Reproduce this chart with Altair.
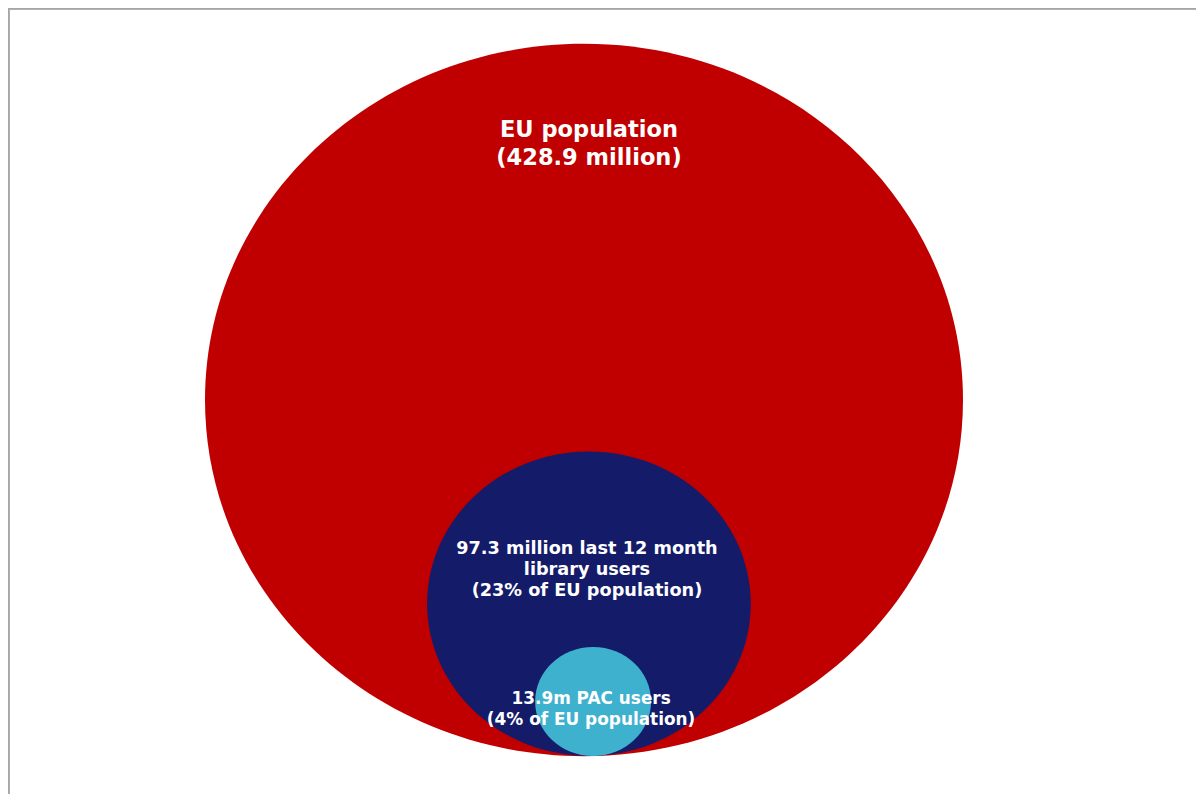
import altair as alt
import pandas as pd

# ---- data ----
names = ["EU population", "Last 12 month library users", "PAC users"]
values_million = [428.9, 97.3, 13.9]
share_of_eu = [100, 23, 4]
# circle geometry in units of the EU circle's horizontal radius
center_x = [0.0, 0.013, 0.024]
center_y = [0.0, -0.5375, -0.7955]
radius_x = [1.0, 0.427, 0.153]
colors = ["#C00000", "#141B69", "#3DB1CD"]

label_eu = ["EU population", "(428.9 million)"]
label_lib = ["97.3 million last 12 month", "library users", "(23% of EU population)"]
label_pac = ["13.9m PAC users", "(4% of EU population)"]

# ---- layout ----
W, H = 1188, 786
xmin, xmax = -1.5198, 1.6148
px_per_unit = W / (xmax - xmin)
ymax = 392 / px_per_unit
ymin = ymax - H / px_per_unit

aspect = 0.94
k = 0.5523
kr = round(k * aspect, 4)
a = aspect
ellipse = (f"M -1 0 C -1 {-kr} {-k} {-a} 0 {-a} C {k} {-a} 1 {-kr} 1 0 "
           f"C 1 {kr} {k} {a} 0 {a} C {-k} {a} -1 {kr} -1 0 Z")

df = pd.DataFrame({
    "name": names,
    "value": values_million,
    "share": share_of_eu,
    "cx": center_x,
    "cy": center_y,
    "rx": radius_x,
    "idx": [0, 1, 2],
})

xs = alt.Scale(domain=[xmin, xmax], nice=False, zero=False)
ys = alt.Scale(domain=[ymin, ymax], nice=False, zero=False)

base = alt.Chart(df)

circles = base.mark_point(filled=True, shape=ellipse, opacity=1, strokeWidth=0).transform_calculate(
    sz=f"4*pow(datum.rx*{px_per_unit},2)"
).encode(
    x=alt.X("cx:Q", scale=xs, axis=None),
    y=alt.Y("cy:Q", scale=ys, axis=None),
    size=alt.Size("sz:Q", scale=None, legend=None),
    color=alt.Color("name:N", scale=alt.Scale(domain=names, range=colors), legend=None),
    order=alt.Order("idx:Q"),
)


def label(name, lines, size, lh, dx, dy):
    return base.transform_filter(alt.datum.name == name).mark_text(
        text=lines, font="DejaVu Sans", fontWeight="bold", fontSize=size,
        color="white", align="center", baseline="alphabetic",
        lineHeight=lh, dx=dx, dy=dy,
    ).encode(
        x=alt.X("cx:Q", scale=xs, axis=None),
        y=alt.Y("cy:Q", scale=ys, axis=None),
    )


t1 = label(names[0], label_eu, 22.5, 28, 5, -262.7)
t2 = label(names[1], label_lib, 17.7, 21, -2, -49.4)
t3 = label(names[2], label_pac, 16.9, 21, -2, 2.5)

frame_top = alt.Chart(df).mark_rule(color="#A6A6A6", strokeWidth=1.5).encode(
    x=alt.value(0), x2=alt.value(W), y=alt.value(0.75)
)
frame_left = alt.Chart(df).mark_rule(color="#A6A6A6", strokeWidth=1.5).encode(
    x=alt.value(0.75), y=alt.value(0), y2=alt.value(H)
)

chart = alt.layer(circles, t1, t2, t3, frame_top, frame_left).properties(
    width=W, height=H, autosize=alt.AutoSizeParams(type="none"), padding=0
).configure_view(stroke=None)

chart.save("out.html", embed_options={"renderer": "svg", "actions": False})
